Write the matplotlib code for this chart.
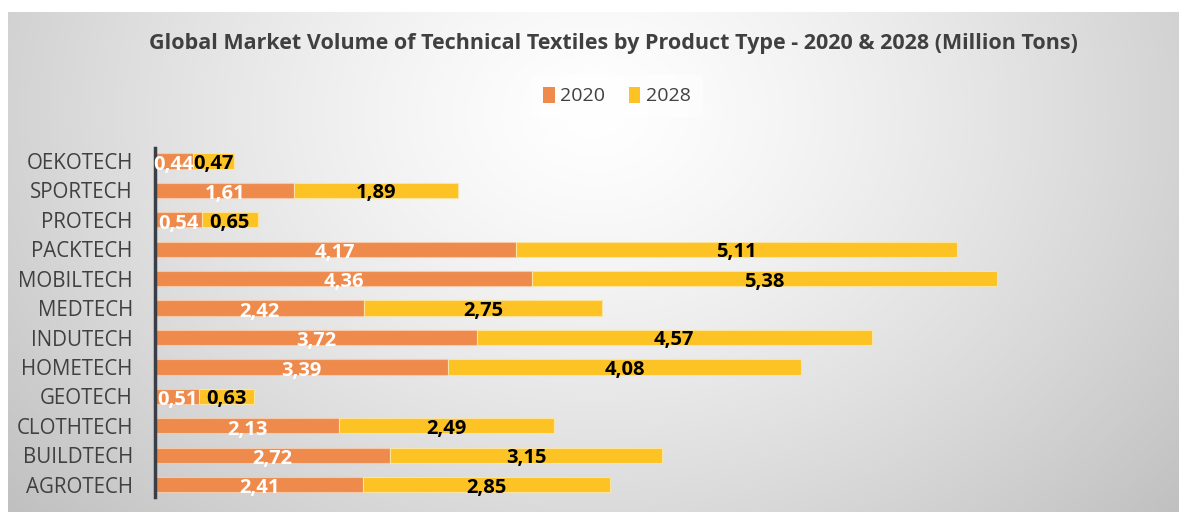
import numpy as np
import matplotlib.pyplot as plt

categories = ["AGROTECH", "BUILDTECH", "CLOTHTECH", "GEOTECH", "HOMETECH", "INDUTECH",
              "MEDTECH", "MOBILTECH", "PACKTECH", "PROTECH", "SPORTECH", "OEKOTECH"]
values_2020 = [2.41, 2.72, 2.13, 0.51, 3.39, 3.72, 2.42, 4.36, 4.17, 0.54, 1.61, 0.44]
values_2028 = [2.85, 3.15, 2.49, 0.63, 4.08, 4.57, 2.75, 5.38, 5.11, 0.65, 1.89, 0.47]
series_names = ["2020", "2028"]
title = "Global Market Volume of Technical Textiles by Product Type - 2020 & 2028 (Million Tons)"

c2020 = "#EE8A4C"
c2028 = "#FDC325"
font = ["Open Sans", "DejaVu Sans"]
plt.rcParams['font.family'] = font

W, H = 1179, 512
fig = plt.figure(figsize=(W / 100, H / 100), dpi=100)
fig.patch.set_facecolor("white")

# background gradient panel
bg = fig.add_axes([8 / W, 0, 1 - 8 / W, 1 - 12 / H])
bg.set_axis_off()
yy, xx = np.mgrid[0:200, 0:400]
cx, cy = 200, 40
d = np.sqrt(((xx - cx) / 250.0) ** 2 + ((yy - cy) / 230.0) ** 2)
val = 1.0 - 0.23 * np.clip(d, 0, 1.2) ** 1.3
img = np.dstack([val, val, val])
bg.imshow(img, aspect="auto", extent=[0, 1, 0, 1], origin="upper")
bg.set_xlim(0, 1)
bg.set_ylim(0, 1)

ax = fig.add_axes([155 / W, 1 - 497 / H, (1106 - 155) / W, (497 - 148) / H])
ax.patch.set_alpha(0)
y = np.arange(len(categories))
ax.barh(y, values_2020, height=0.52, color=c2020, edgecolor="#F6C9AA", linewidth=0.8, label=series_names[0])
ax.barh(y, values_2028, left=values_2020, height=0.52, color=c2028, edgecolor="#FBE3A0", linewidth=0.8, label=series_names[1])

for yi, a, b in zip(y, values_2020, values_2028):
    ax.text(a / 2, yi - 0.13, f"{a:.2f}".replace(".", ","), ha="center", va="center",
            color="white", fontsize=14.5, fontweight="bold")
    ax.text(a + b / 2, yi - 0.1, f"{b:.2f}".replace(".", ","), ha="center", va="center",
            color="black", fontsize=14.5, fontweight="bold")

ax.set_xlim(0, 11)
ax.set_ylim(-0.42, 11.44)
ax.set_yticks(y)
ax.set_yticklabels(categories, fontsize=14.8, color="#404040")
ax.tick_params(axis="y", length=0, pad=16)
ax.set_xticks([])
for s in ["top", "right", "bottom"]:
    ax.spines[s].set_visible(False)
ax.spines["left"].set_color("#3a3f47")
ax.spines["left"].set_linewidth(2.5)

fig.text(613 / W, 1 - 43 / H, title, ha="center", va="center", fontsize=15.5,
         fontweight="bold", color="#404040")

handles, labels = ax.get_legend_handles_labels()
leg = fig.legend(handles, labels, loc="center", bbox_to_anchor=(617 / W, 1 - 96 / H), ncol=2,
                 frameon=True, fontsize=14, handlelength=0.6, handleheight=0.9,
                 handletextpad=0.3, columnspacing=1.2, borderpad=0.6)
leg.get_frame().set_facecolor("white")
leg.get_frame().set_alpha(0.5)
leg.get_frame().set_edgecolor("none")
for t in leg.get_texts():
    t.set_color("#404040")
for h in leg.legend_handles:
    h.set_edgecolor("none")

fig.savefig("out.png", dpi=100, facecolor=fig.get_facecolor())
